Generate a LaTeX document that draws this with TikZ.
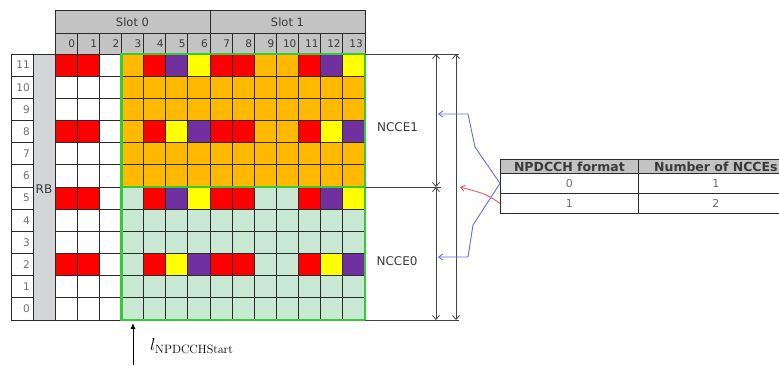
\documentclass[tikz,border=0pt]{standalone}
\usepackage[no-math]{fontspec}
\setmainfont{DejaVu Sans}
\usetikzlibrary{arrows.meta}

\definecolor{cred}{HTML}{FF0000}
\definecolor{corange}{HTML}{FFBA00}
\definecolor{cpurple}{HTML}{7030A0}
\definecolor{cyellow}{HTML}{FFFF00}
\definecolor{cmint}{HTML}{C9E8D3}
\definecolor{hdrgrey}{HTML}{C3C3C3}
\definecolor{rbgrey}{HTML}{D3D5D8}
\definecolor{gridline}{HTML}{2A2A2A}
\definecolor{darktext}{HTML}{3A3A3A}
\definecolor{labelgrey}{HTML}{707070}
\definecolor{dimgrey}{HTML}{444444}
\definecolor{ncceblue}{HTML}{6A6AE6}
\definecolor{nccered}{HTML}{EE5A5A}
\definecolor{framegreen}{HTML}{33CC33}

% one row of resource elements: #1 = row index, #2 = colours of columns 0..13
\newcommand\reRow[2]{%
  \foreach \c [count=\i from 0] in {#2}
    {\fill[\c] ({55+\i*\cw},{54+(11-#1)*\rh}) rectangle ++(\cw,\rh);}}

\begin{document}
\begin{tikzpicture}[x=1pt,y=-1pt,
  gridln/.style={draw=gridline,line width=0.8pt},
  lbl/.style={font=\fontsize{10.5}{12}\selectfont,text=labelgrey,inner sep=0pt},
  hdrtxt/.style={font=\fontsize{10.5}{12}\selectfont,text=darktext,inner sep=0pt},
  dimline/.style={draw=dimgrey,line width=0.8pt},
  dimarrow/.style={dimline,{Straight Barb[length=4pt,width=7pt]}-{Straight Barb[length=4pt,width=7pt]}},
  link/.style={line width=0.9pt,-{Straight Barb[length=4pt,width=6pt]}},
  tcell/.style={draw=gridline,line width=0.8pt,anchor=north west,inner sep=0pt,
    font=\fontsize{11}{13}\selectfont,text=labelgrey},
  thead/.style={tcell,fill=hdrgrey,minimum height=14,
    font=\fontsize{12.5}{14}\selectfont\bfseries,text=darktext},
]
\useasboundingbox (0,0) rectangle (779,365);
\pgfmathsetmacro\cw{310/14}
\pgfmathsetmacro\rh{266/12}

% ---- resource grid cells ----
\reRow{11}{cred,cred,white,corange,cred,cpurple,cyellow,cred,cred,corange,corange,cred,cpurple,cyellow}
\reRow{10}{white,white,white,corange,corange,corange,corange,corange,corange,corange,corange,corange,corange,corange}
\reRow{9}{white,white,white,corange,corange,corange,corange,corange,corange,corange,corange,corange,corange,corange}
\reRow{8}{cred,cred,white,corange,cred,cyellow,cpurple,cred,cred,corange,corange,cred,cyellow,cpurple}
\reRow{7}{white,white,white,corange,corange,corange,corange,corange,corange,corange,corange,corange,corange,corange}
\reRow{6}{white,white,white,corange,corange,corange,corange,corange,corange,corange,corange,corange,corange,corange}
\reRow{5}{cred,cred,white,cmint,cred,cpurple,cyellow,cred,cred,cmint,cmint,cred,cpurple,cyellow}
\reRow{4}{white,white,white,cmint,cmint,cmint,cmint,cmint,cmint,cmint,cmint,cmint,cmint,cmint}
\reRow{3}{white,white,white,cmint,cmint,cmint,cmint,cmint,cmint,cmint,cmint,cmint,cmint,cmint}
\reRow{2}{cred,cred,white,cmint,cred,cyellow,cpurple,cred,cred,cmint,cmint,cred,cyellow,cpurple}
\reRow{1}{white,white,white,cmint,cmint,cmint,cmint,cmint,cmint,cmint,cmint,cmint,cmint,cmint}
\reRow{0}{white,white,white,cmint,cmint,cmint,cmint,cmint,cmint,cmint,cmint,cmint,cmint,cmint}

% ---- RB column ----
\draw[gridln,fill=rbgrey] (33,54) rectangle (55,320);
\node[font=\fontsize{12}{14}\selectfont,text=darktext,inner sep=0pt] (rb) at (44,189) {RB};

% ---- grid lines ----
\foreach \i in {0,...,14}
  \draw[gridln] ({55+\i*\cw},54) -- ({55+\i*\cw},320);
\foreach \j in {0,...,12} {
  \draw[gridln] (11,{54+\j*\rh}) -- (33,{54+\j*\rh});
  \draw[gridln] (55,{54+\j*\rh}) -- (365,{54+\j*\rh});
}
\draw[gridln] (11,54) -- (11,320);

% row indices
\foreach \r in {0,...,11}
  \node[lbl,anchor=east] (rl\r) at (30,{54+(11.5-\r)*\rh}) {\r};

% ---- slot / symbol header ----
\draw[gridln,fill=hdrgrey] (55,10) rectangle (210,33);
\draw[gridln,fill=hdrgrey] (210,10) rectangle (365,33);
\node[hdrtxt,font=\fontsize{11.5}{13}\selectfont] (slot0) at (132.5,22) {Slot 0};
\node[hdrtxt,font=\fontsize{11.5}{13}\selectfont] (slot1) at (287.5,22) {Slot 1};
\foreach \i in {0,...,13} {
  \draw[gridln,fill=hdrgrey] ({55+\i*\cw},33) rectangle ({55+(\i+1)*\cw},54);
  \node[hdrtxt,anchor=east] (sym\i) at ({55+(\i+1)*\cw-2},44) {\i};
}

% ---- NPDCCH search region frame ----
\draw[draw=framegreen,line width=2.2pt] ({55+3*\cw},54) rectangle (365,320);
\draw[draw=framegreen,line width=1.4pt] ({55+3*\cw},187) -- (365,187);

% ---- dimension lines ----
\draw[dimline] (365,54) -- (459,54);
\draw[dimline] (365,320) -- (459,320);
\draw[dimline] (365,187) -- (441,187);
\draw[dimarrow] (436,54) -- (436,187);
\draw[dimarrow] (436,187) -- (436,320);
\draw[dimarrow] (456,54) -- (456,320);

\node[hdrtxt,font=\fontsize{12}{14}\selectfont] (ncce1) at (397.5,127) {NCCE1};
\node[hdrtxt,font=\fontsize{12}{14}\selectfont] (ncce0) at (397,261) {NCCE0};

\coordinate (tip1) at (438,114);
\coordinate (tip0) at (438,257);
\coordinate (tipmid) at (460,187);

% ---- format table ----
\node[thead,minimum width=138] (th1) at (500,159) {NPDCCH format};
\node[thead,minimum width=155] (th2) at (638,159) {Number of NCCEs};
\node[tcell,minimum width=138,minimum height=20] (f0) at (500,173) {0};
\node[tcell,minimum width=155,minimum height=20] (n0) at (638,173) {1};
\node[tcell,minimum width=138,minimum height=20] (f1) at (500,193) {1};
\node[tcell,minimum width=155,minimum height=20] (n1) at (638,193) {2};

% ---- links from table to the regions ----
\draw[link,draw=ncceblue] (f0.west) -- (475,147) -- (468,114) -- (tip1);
\draw[link,draw=ncceblue] (f0.west) -- (473,225) -- (468,257) -- (tip0);
\draw[link,draw=nccered] (f1.west) .. controls (486,194) .. (tipmid);

% ---- start symbol marker ----
\coordinate (startfoot) at (133,365);
\coordinate (startmark) at (133,323);
\draw[line width=0.9pt,-{Latex[length=6pt,width=5pt]}] (startfoot) -- (startmark);
\node[anchor=west,inner sep=0pt] (lstart) at (150,346) {\LARGE$l_{\mathrm{NPDCCHStart}}$};
\end{tikzpicture}
\end{document}
